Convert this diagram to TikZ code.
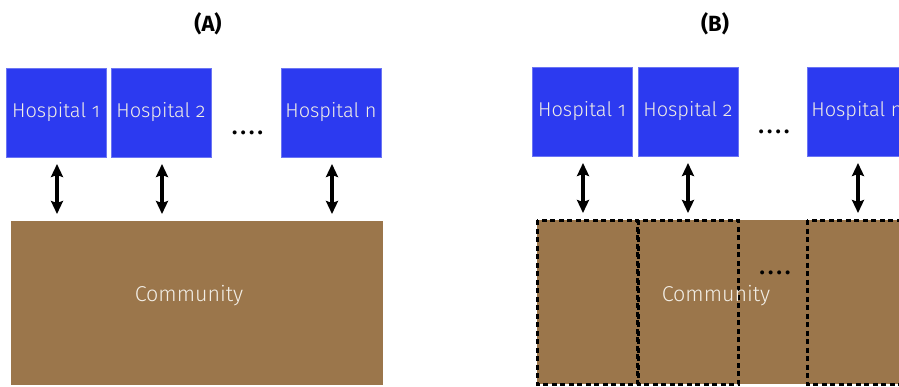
\documentclass[tikz,border=0pt]{standalone}
\usepackage{fontspec}
\setmainfont{Fira Sans Light}[Numbers=OldStyle]
\newfontfamily\titlefont{Fira Sans Bold}
\usetikzlibrary{arrows.meta}
\definecolor{hospblue}{RGB}{44,58,240}
\definecolor{commbrown}{RGB}{155,118,75}
\definecolor{labelwhite}{RGB}{242,238,230}
\tikzset{
  hosp/.style={fill=hospblue, draw=hospblue!70!white, line width=0.6pt,
    minimum width=100pt, minimum height=89pt, inner sep=0pt,
    text=labelwhite, font=\fontsize{20}{20}\selectfont},
  comm/.style={fill=commbrown, inner sep=0pt},
  commlabel/.style={text=labelwhite, font=\fontsize{21.5}{21.5}\selectfont},
  link/.style={line width=3.2pt, {Stealth[length=13pt,width=12pt,inset=2pt]}-{Stealth[length=13pt,width=12pt,inset=2pt]}},
  zone/.style={draw=black, line width=3pt, dash pattern=on 5pt off 3.5pt},
  paneltitle/.style={font=\titlefont\fontsize{22}{22}\selectfont},
  ellip/.style={font=\titlefont\fontsize{22}{22}\selectfont}
}
\newcommand\fourdots{.\hspace{3.2pt}.\hspace{3.2pt}.\hspace{3.2pt}.}
\begin{document}
\begin{tikzpicture}[x=1pt,y=-1pt]
\useasboundingbox (0,0) rectangle (899,386);
\clip (0,0) rectangle (899,386);

% ---- panel A: one shared community ----
\node[paneltitle] (titleA) at (208,24) {(A)};
\node[hosp] (a1) at (56,112.5) {Hospital 1};
\node[hosp] (a2) at (161,112.5) {Hospital 2};
\node[hosp] (an) at (331,112.5) {Hospital n};
\node[ellip] (adots) at (247.5,133) {\fourdots};
\node[comm, minimum width=372pt, minimum height=164pt] (ca) at (197,303) {};
\node[commlabel] (catext) at (189,296) {Community};
\coordinate (a1b) at (57,164);  \coordinate (a1c) at (57,214);
\coordinate (a2b) at (162,164); \coordinate (a2c) at (162,214);
\coordinate (anb) at (332,164); \coordinate (anc) at (332,214);
\draw[link] (a1b) -- (a1c);
\draw[link] (a2b) -- (a2c);
\draw[link] (anb) -- (anc);

% ---- panel B: community split into catchment zones ----
\node[paneltitle] (titleB) at (715,24) {(B)};
\node[hosp] (b1) at (582,111.5) {Hospital 1};
\node[hosp] (b2) at (688,111.5) {Hospital 2};
\node[hosp] (bn) at (857,111.5) {Hospital n};
\node[ellip] (bdots) at (774,132) {\fourdots};
\node[comm, minimum width=372pt, minimum height=164pt] (cb) at (723,302) {};
\draw[zone] (537,220) rectangle (637,384);
\draw[zone] (638,220) rectangle (738,384);
\draw[zone] (807,220) rectangle (907,384);
\node[ellip] (cdots) at (775,273) {\fourdots};
\node[commlabel] (cbtext) at (716,296) {Community};
\coordinate (b1b) at (583,163);  \coordinate (b1c) at (583,213);
\coordinate (b2b) at (688,163);  \coordinate (b2c) at (688,213);
\coordinate (bnb) at (858,163);  \coordinate (bnc) at (858,213);
\draw[link] (b1b) -- (b1c);
\draw[link] (b2b) -- (b2c);
\draw[link] (bnb) -- (bnc);
\end{tikzpicture}
\end{document}
